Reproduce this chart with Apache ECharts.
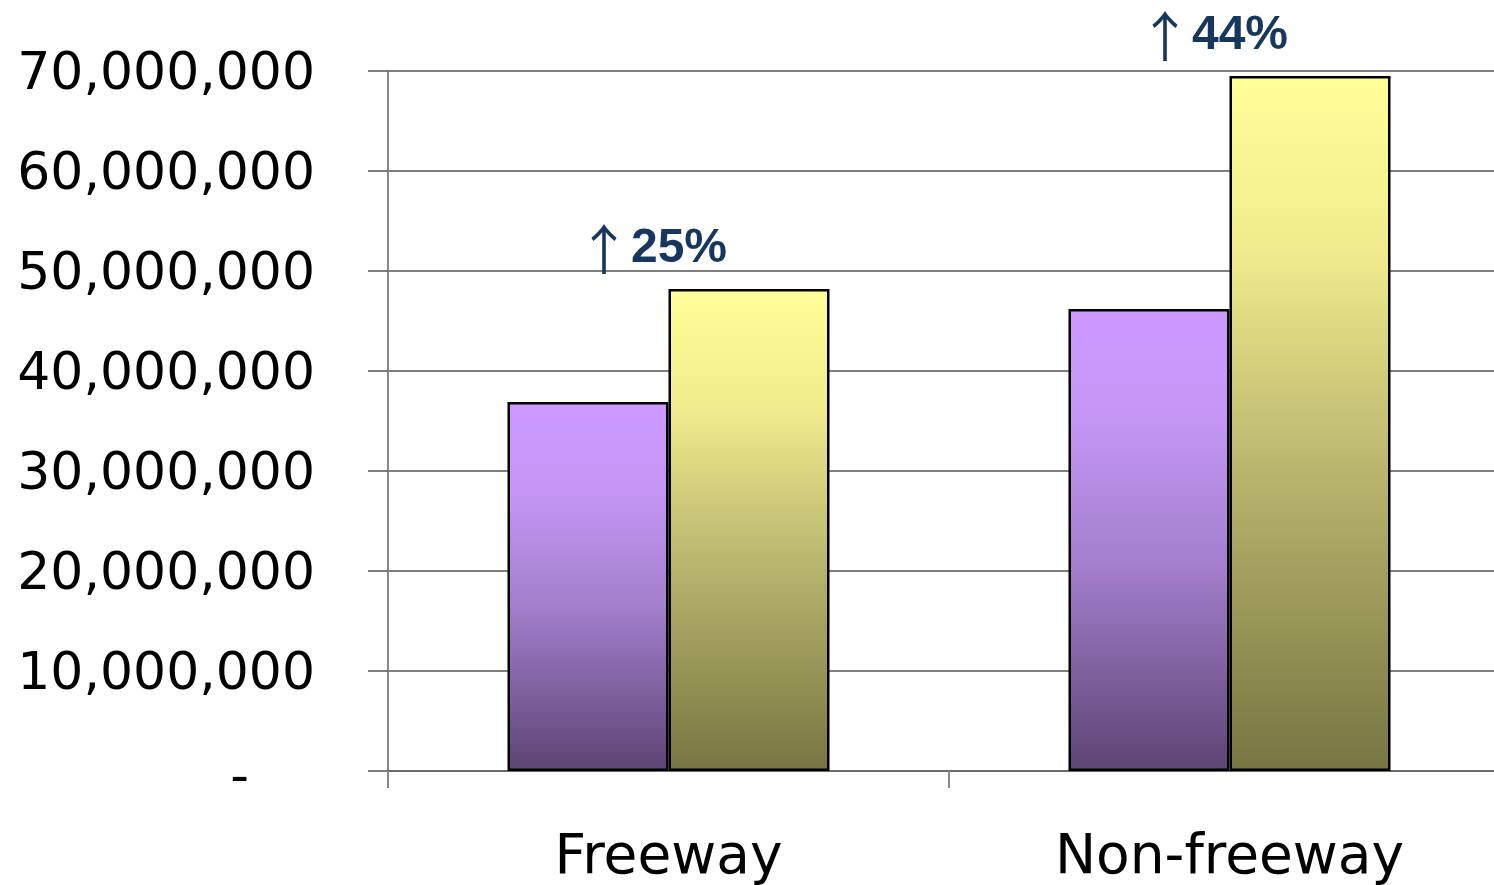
<!DOCTYPE html>
<html>
<head>
<meta charset="utf-8">
<script src="https://cdn.jsdelivr.net/npm/echarts@6/dist/echarts.min.js"></script>
<style>
  html, body { margin: 0; padding: 0; background: #fff; }
  #main { width: 1494px; height: 885px; }
</style>
</head>
<body>
<div id="main"></div>
<script>
var categories = ["Freeway", "Non-freeway"];
var before = [36900000, 46200000];
var after = [48200000, 69500000];
var changes = ["25%", "44%"];
var yTicks = [0, 10000000, 20000000, 30000000, 40000000, 50000000, 60000000, 70000000];

var myChart = echarts.init(document.getElementById("main"));

function fmt(v) {
  if (v === 0) return "{z|-}";
  return "{n|" + String(v).replace(/\B(?=(\d{3})+(?!\d))/g, ",") + "}";
}

myChart.setOption({
  animation: false,
  grid: { left: 388, top: 71, height: 700, width: 1122, outerBoundsMode: "none", containLabel: false },
  xAxis: {
    type: "category",
    data: categories,
    axisLine: { lineStyle: { color: "#666", width: 1.5 } },
    axisTick: { show: true, length: 17, lineStyle: { color: "#888", width: 2 } },
    axisLabel: {
      margin: 60,
      color: "#000",
      fontFamily: "DejaVu Sans",
      fontSize: 55
    }
  },
  yAxis: {
    type: "value",
    min: yTicks[0],
    max: yTicks[yTicks.length - 1],
    interval: 10000000,
    axisLine: { show: true, lineStyle: { color: "#888", width: 2 } },
    axisTick: { show: true, length: 20, lineStyle: { color: "#555", width: 1.5 } },
    splitLine: { lineStyle: { color: "#555", width: 1.5 } },
    axisLabel: {
      margin: 73,
      color: "#000",
      formatter: fmt,
      rich: {
        n: { fontFamily: "DejaVu Sans", fontSize: 52, color: "#000", padding: [8, 0, 0, 0] },
        z: { fontFamily: "DejaVu Sans", fontSize: 52, color: "#000", padding: [16, 66, 0, 0] }
      }
    }
  },
  series: [
    {
      type: "bar",
      data: before,
      barGap: "0%",
      barCategoryGap: "42.6%",
      itemStyle: {
        borderColor: "#000",
        borderWidth: 2.5,
        color: new echarts.graphic.LinearGradient(0, 0, 0, 1, [
          { offset: 0, color: "#cc99ff" },
          { offset: 0.22, color: "#c697f7" },
          { offset: 0.55, color: "#a47fcd" },
          { offset: 1, color: "#5c4473" }
        ])
      }
    },
    {
      type: "bar",
      data: after,
      barGap: "0%",
      barCategoryGap: "42.6%",
      itemStyle: {
        borderColor: "#000",
        borderWidth: 2.5,
        color: new echarts.graphic.LinearGradient(0, 0, 0, 1, [
          { offset: 0, color: "#ffff99" },
          { offset: 0.25, color: "#f0ec8d" },
          { offset: 0.55, color: "#bcb870" },
          { offset: 1, color: "#777542" }
        ])
      },
      label: {
        show: true,
        position: "top",
        offset: [-97, -8],
        formatter: function (p) {
          return "{a|\u2191}{b|" + changes[p.dataIndex] + "}";
        },
        rich: {
          a: { fontFamily: "Noto Sans CJK SC", fontSize: 54, color: "#17375e" },
          b: { fontFamily: "Liberation Sans", fontWeight: "bold", fontSize: 48, color: "#17375e" }
        }
      }
    }
  ]
});
</script>
</body>
</html>
